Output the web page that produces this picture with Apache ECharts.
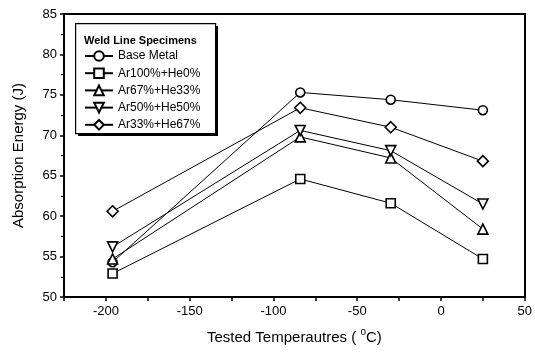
<!DOCTYPE html>
<html><head><meta charset="utf-8">
<script src="https://cdn.jsdelivr.net/npm/echarts@6/dist/echarts.min.js"></script>
<style>html,body{margin:0;padding:0;background:#fff}#c{width:535px;height:358px}</style>
</head><body><div id="c"></div>
<script>
const temps = [-196, -84, -30, 25];
const seriesNames = ['Base Metal', 'Ar100%+He0%', 'Ar67%+He33%', 'Ar50%+He50%', 'Ar33%+He67%'];
const baseMetal = [54.3, 75.3, 74.4, 73.1];
const ar100 = [52.9, 64.6, 61.6, 54.7];
const ar67 = [54.7, 69.8, 67.2, 58.4];
const ar50 = [56.2, 70.6, 68.1, 61.5];
const ar33 = [60.6, 73.4, 71.0, 66.8];
const xTicks = [-200, -150, -100, -50, 0, 50];
const yTicks = [50, 55, 60, 65, 70, 75, 80, 85];

const symbols = ['circle', 'rect', 'triangle', 'path://M0,0 L10,0 L5,9 Z', 'diamond'];
const sizes = [9, 9, 10, 10, 11];
const values = [baseMetal, ar100, ar67, ar50, ar33];
const font = 'Liberation Sans, Arial, sans-serif';

const chart = echarts.init(document.getElementById('c'));
const axisCommon = {
  axisLine: {onZero: false, lineStyle: {color: '#000', width: 2}},
  axisTick: {inside: false, length: 4, lineStyle: {color: '#000', width: 1.5}},
  minorTick: {show: true, splitNumber: 2, length: 3, lineStyle: {color: '#000', width: 1.2}},
  splitLine: {show: false},
  axisLabel: {color: '#000', fontSize: 13, fontFamily: font}
};
chart.setOption({
  animation: false,
  grid: {left: 64, right: 9, top: 14, bottom: 61},
  xAxis: [Object.assign({}, axisCommon, {
    type: 'value', min: -225, max: 50, interval: 25,
    axisLabel: Object.assign({}, axisCommon.axisLabel, {margin: 8,
      formatter: v => xTicks.includes(v) ? String(v) : ''}),
    axisTick: Object.assign({}, axisCommon.axisTick, {length: 4}),
    minorTick: {show: false},
    name: '{a|Tested Temperautres ( }{s|o}{a|C)}', nameLocation: 'middle', nameGap: 30,
    nameTextStyle: {rich: {
      a: {fontSize: 15, fontFamily: font, color: '#000', verticalAlign: 'bottom'},
      s: {fontSize: 10, fontFamily: font, color: '#000', verticalAlign: 'top', padding: [0, 0, 8, 0]}
    }}
  }), {
    type: 'value', position: 'top', min: -225, max: 50,
    axisLine: {show: true, onZero: false, lineStyle: {color: '#000', width: 2}},
    axisTick: {show: false}, axisLabel: {show: false}, splitLine: {show: false}
  }],
  yAxis: [Object.assign({}, axisCommon, {
    type: 'value', min: 50, max: 85, interval: 5,
    axisLabel: Object.assign({}, axisCommon.axisLabel, {margin: 7,
      formatter: v => yTicks.includes(v) ? String(v) : ''}),
    name: 'Absorption Energy (J)', nameLocation: 'middle', nameGap: 38,
    nameTextStyle: {fontSize: 15, fontFamily: font, color: '#000'}
  }), {
    type: 'value', position: 'right', min: 50, max: 85,
    axisLine: {show: true, onZero: false, lineStyle: {color: '#000', width: 2}},
    axisTick: {show: false}, axisLabel: {show: false}, splitLine: {show: false}
  }],
  legend: {
    orient: 'vertical', left: 84, top: 50, itemGap: 5.2, itemWidth: 28, itemHeight: 12, padding: 0,
    textStyle: {fontSize: 12, fontFamily: font, color: '#000'},
    data: seriesNames
  },
  graphic: [
    {type: 'rect', left: 78, top: 26, z: 0, shape: {width: 140, height: 110}, style: {fill: '#000'}},
    {type: 'rect', left: 75, top: 23, z: 1, shape: {width: 140, height: 110}, style: {fill: '#fff', stroke: '#000', lineWidth: 1.2}},
    {type: 'text', left: 84, top: 35, z: 2, style: {text: 'Weld Line Specimens', fontSize: 11, fontWeight: 'bold', fontFamily: font, fill: '#000'}}
  ],
  series: seriesNames.map((n, i) => ({
    name: n, type: 'line', z: 3,
    data: temps.map((t, j) => [t, values[i][j]]),
    symbol: symbols[i], symbolSize: sizes[i], showSymbol: true,
    lineStyle: {color: '#000', width: 1},
    itemStyle: {color: '#fff', borderColor: '#000', borderWidth: 1.6},
    emphasis: {disabled: true}
  }))
});
</script></body></html>
